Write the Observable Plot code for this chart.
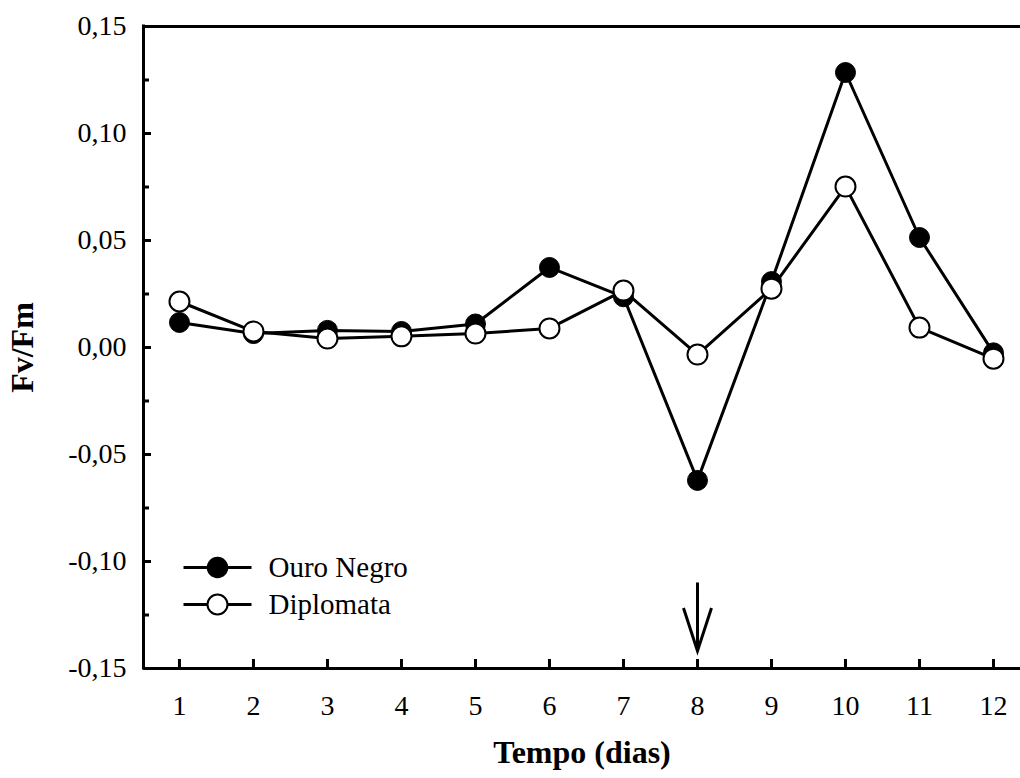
<!DOCTYPE html>
<html>
<head>
<meta charset="utf-8">
<script src="https://cdn.jsdelivr.net/npm/d3@7"></script>
<script src="https://cdn.jsdelivr.net/npm/@observablehq/plot@0.6"></script>
<style>
  html, body { margin: 0; padding: 0; background: #fff; }
  #chart svg { display: block; }
</style>
</head>
<body>
<div id="chart"></div>
<script>
const days = [1, 2, 3, 4, 5, 6, 7, 8, 9, 10, 11, 12];
const ouroNegro = [0.0117, 0.0065, 0.0080, 0.0075, 0.0110, 0.0374, 0.0237, -0.0621, 0.0308, 0.1285, 0.0514, -0.0025];
const diplomata = [0.0215, 0.0075, 0.0042, 0.0052, 0.0065, 0.0089, 0.0266, -0.0033, 0.0275, 0.0752, 0.0093, -0.0052];
const seriesNames = ["Ouro Negro", "Diplomata"];
const yMajorTicks = [-0.15, -0.10, -0.05, 0, 0.05, 0.10, 0.15];
const yMinorTicks = [-0.125, -0.075, -0.025, 0.025, 0.075, 0.125];
const xTitle = "Tempo (dias)";
const yTitle = "Fv/Fm";
const arrowAnn = [{day: 8, from: -0.1098, to: -0.1418}];

const ouroData = days.map((d, i) => ({day: d, v: ouroNegro[i]}));
const diploData = days.map((d, i) => ({day: d, v: diplomata[i]}));
const xDomain = [0.514, 12.365];
const yDomain = [-0.15, 0.15];
const fmt = d => d.toFixed(2).replace(".", ",");

const legendLine = {
  draw(context) { context.moveTo(-34, 0); context.lineTo(34, 0); }
};
const arrowHead = {
  draw(context) { context.moveTo(-14, -43); context.lineTo(0, 0); context.lineTo(14, -43); }
};

const plot = Plot.plot({
  width: 1020,
  height: 778,
  marginLeft: 143,
  marginRight: 0,
  marginTop: 26,
  marginBottom: 110,
  style: {fontFamily: "'Liberation Serif', 'Times New Roman', serif", fontSize: "28px", background: "#fff", color: "#000"},
  x: {domain: xDomain},
  y: {domain: yDomain},
  marks: [
    // frame
    Plot.ruleY([yDomain[1]], {stroke: "#000", strokeWidth: 3}),
    Plot.ruleY([yDomain[0]], {stroke: "#000", strokeWidth: 3}),
    Plot.ruleX([xDomain[0]], {stroke: "#000", strokeWidth: 3, strokeLinecap: "square"}),
    // axes
    Plot.axisY({ticks: yMajorTicks, tickSize: -8, tickPadding: 25, tickFormat: fmt, strokeWidth: 3, fontSize: 28, label: null}),
    Plot.axisY({ticks: yMinorTicks, tickSize: -6, tickFormat: () => "", strokeWidth: 3, label: null}),
    Plot.axisX({ticks: days, tickSize: -9, tickPadding: 36, tickFormat: d => String(d), strokeWidth: 3, fontSize: 28, label: null}),
    // series
    Plot.line(ouroData, {x: "day", y: "v", stroke: "#000", strokeWidth: 3}),
    Plot.dot(ouroData, {x: "day", y: "v", r: 10, fill: "#000", stroke: "#000", strokeWidth: 1}),
    Plot.line(diploData, {x: "day", y: "v", stroke: "#000", strokeWidth: 3}),
    Plot.dot(diploData, {x: "day", y: "v", r: 10, fill: "#fff", stroke: "#000", strokeWidth: 2}),
    // arrow
    Plot.link(arrowAnn, {x1: "day", x2: "day", y1: "from", y2: "to", stroke: "#000", strokeWidth: 3}),
    Plot.dot(arrowAnn, {x: "day", y: "to", symbol: arrowHead, r: 1, fill: "none", stroke: "#000", strokeWidth: 3}),
    // legend
    Plot.dot([seriesNames[0]], {frameAnchor: "bottom-left", dx: 74, dy: -101, symbol: legendLine, stroke: "#000", strokeWidth: 3, r: 1}),
    Plot.dot([seriesNames[0]], {frameAnchor: "bottom-left", dx: 74, dy: -101, r: 10, fill: "#000", stroke: "#000"}),
    Plot.text([seriesNames[0]], {frameAnchor: "bottom-left", dx: 125, dy: -101, text: d => d, textAnchor: "start", lineAnchor: "middle", fontSize: 29}),
    Plot.dot([seriesNames[1]], {frameAnchor: "bottom-left", dx: 74, dy: -64, symbol: legendLine, stroke: "#000", strokeWidth: 3, r: 1}),
    Plot.dot([seriesNames[1]], {frameAnchor: "bottom-left", dx: 74, dy: -64, r: 10, fill: "#fff", stroke: "#000", strokeWidth: 2}),
    Plot.text([seriesNames[1]], {frameAnchor: "bottom-left", dx: 125, dy: -64, text: d => d, textAnchor: "start", lineAnchor: "middle", fontSize: 29}),
    // titles
    Plot.text([xTitle], {frameAnchor: "bottom", dy: 84, text: d => d, textAnchor: "middle", lineAnchor: "middle", fontWeight: "bold", fontSize: 32}),
    Plot.text([yTitle], {frameAnchor: "left", dx: -121, rotate: -90, text: d => d, textAnchor: "middle", lineAnchor: "middle", fontWeight: "bold", fontSize: 32})
  ]
});
document.getElementById("chart").appendChild(plot);
</script>
</body>
</html>
